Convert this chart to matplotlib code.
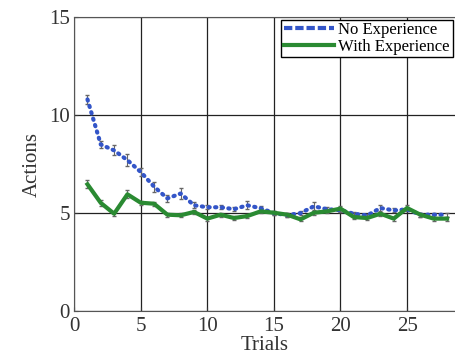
import matplotlib
matplotlib.use("Agg")
import matplotlib.pyplot as plt
from matplotlib.lines import Line2D

# values
trials = list(range(1, 29))
no_exp = [10.8, 8.5, 8.2, 7.7, 7.1, 6.35, 5.75, 6.0, 5.4, 5.3,
          5.3, 5.2, 5.4, 5.25, 5.0, 4.9, 5.0, 5.35, 5.2, 5.15,
          4.97, 4.88, 5.26, 5.14, 5.19, 4.92, 4.92, 4.92]
no_exp_err = [0.25, 0.2, 0.25, 0.3, 0.2, 0.25, 0.2, 0.3, 0.15, 0.1,
              0.1, 0.1, 0.2, 0.1, 0.1, 0.1, 0.1, 0.2, 0.1, 0.1,
              0.1, 0.1, 0.15, 0.1, 0.1, 0.1, 0.1, 0.1]
with_exp = [6.47, 5.52, 4.97, 5.96, 5.53, 5.48, 4.92, 4.89, 5.06, 4.72,
            4.92, 4.75, 4.85, 5.09, 5.02, 4.92, 4.68, 5.02, 5.09, 5.23,
            4.8, 4.75, 4.97, 4.72, 5.26, 4.92, 4.72, 4.72]
with_exp_err = [0.2, 0.15, 0.1, 0.2, 0.1, 0.1, 0.1, 0.1, 0.1, 0.1,
                0.1, 0.1, 0.1, 0.1, 0.1, 0.1, 0.1, 0.1, 0.1, 0.15,
                0.1, 0.1, 0.1, 0.1, 0.15, 0.1, 0.1, 0.1]

blue = "#3355c8"
green = "#2a8a32"

plt.rcParams["font.family"] = ["Liberation Serif", "DejaVu Serif"]

fig = plt.figure(figsize=(4.55, 3.56), dpi=100)
ax = fig.add_axes([0.163, 0.126, 0.837, 0.826])

ax.errorbar(trials, no_exp, yerr=no_exp_err, color=blue, lw=3,
            ls=(0, (0.3, 1.3)), dash_capstyle="round",
            ecolor="#666666", elinewidth=0.8, capsize=1.5, zorder=3)
ax.errorbar(trials, with_exp, yerr=with_exp_err, color=green, lw=3,
            ecolor="#666666", elinewidth=0.8, capsize=1.5, zorder=3)

ax.set_xlim(0, 28.6)
ax.set_ylim(0, 15)
ax.set_xticks([0, 5, 10, 15, 20, 25])
ax.set_yticks([0, 5, 10, 15])
ax.grid(True, color="#222222", lw=0.9)
ax.set_axisbelow(True)
ax.tick_params(direction="in", length=3, labelsize=15, colors="#333333",
               pad=3)
ax.tick_params(axis="x", pad=4)
for side in ["left", "bottom", "top"]:
    ax.spines[side].set_color("#555555")
ax.spines["right"].set_visible(False)

ax.set_xlabel("Trials", fontsize=15, labelpad=0, color="#333333")
ax.set_ylabel("Actions", fontsize=15, labelpad=5, color="#333333")

handles = [Line2D([], [], color=blue, lw=3, ls=(0, (2, 0.7))),
           Line2D([], [], color=green, lw=3)]
leg = ax.legend(handles, ["No Experience", "With Experience"],
                loc="upper right", fontsize=12, fancybox=False,
                framealpha=1, edgecolor="black", borderpad=0.15,
                handlelength=3.0, handletextpad=0.3, labelspacing=0.05,
                borderaxespad=0.15)
leg.get_frame().set_linewidth(1.0)

fig.savefig("out.png", dpi=100)
